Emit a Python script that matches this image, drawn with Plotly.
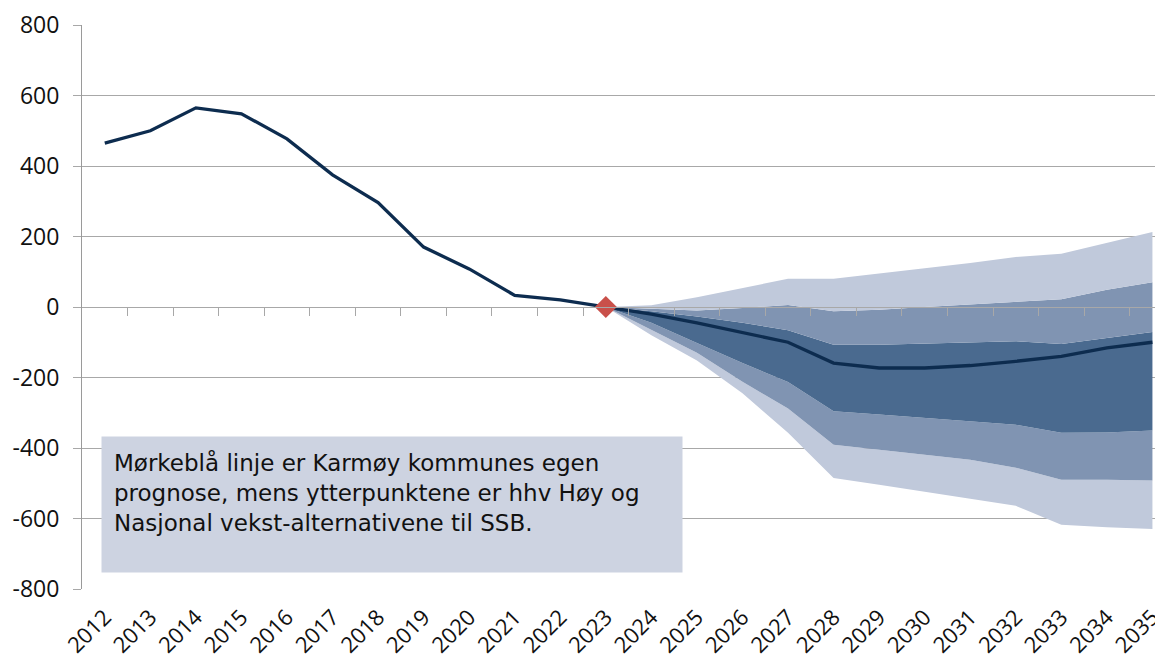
import plotly.graph_objects as go

hist_years = list(range(2012, 2024))
hist_values = [465, 500, 565, 548, 477, 375, 296, 170, 108, 33, 20, 0]

fc_years = list(range(2023, 2036))
fc_values = [0, -20, -45, -72, -100, -159, -173, -173, -166, -154, -140, -116, -100]

light_top = [0, 5, 28, 55, 80, 80, 94, 110, 125, 142, 151, 182, 213]
medium_top = [0, -4, -10, -3, 6, -12, -8, 0, 7, 16, 22, 49, 70]
dark_top = [0, -12, -27, -45, -66, -107, -107, -104, -100, -97, -105, -88, -71]
dark_bottom = [0, -45, -102, -159, -213, -296, -305, -315, -325, -334, -357, -356, -350]
medium_bottom = [0, -65, -130, -212, -288, -391, -405, -419, -433, -456, -490, -490, -492]
light_bottom = [0, -80, -152, -245, -357, -485, -504, -523, -544, -564, -618, -625, -630]

year_ticks = list(range(2012, 2036))
y_ticks = [800, 600, 400, 200, 0, -200, -400, -600, -800]

note_text = ("Mørkeblå linje er Karmøy kommunes egen<br>"
             "prognose, mens ytterpunktene er hhv Høy og<br>"
             "Nasjonal vekst-alternativene til SSB.")

C_LIGHT = "#c0c9db"
C_MED = "#8094b2"
C_DARK = "#4a6a8f"
C_LINE = "#0d2c4f"
C_DIAMOND = "#c9504a"
GRID = "#a8a8a8"

fig = go.Figure()

def band(y, color, fill):
    fig.add_trace(go.Scatter(x=fc_years, y=y, mode="lines", line=dict(width=0, color=color),
                             fill=fill, fillcolor=color, hoverinfo="skip", showlegend=False))

band(light_bottom, C_LIGHT, None)
band(medium_bottom, C_LIGHT, "tonexty")
band(dark_bottom, C_MED, "tonexty")
band(dark_top, C_DARK, "tonexty")
band(medium_top, C_MED, "tonexty")
band(light_top, C_LIGHT, "tonexty")

fig.add_trace(go.Scatter(x=hist_years + fc_years[1:], y=hist_values + fc_values[1:], mode="lines",
                         line=dict(color=C_LINE, width=3.3), showlegend=False))
fig.add_trace(go.Scatter(x=[fc_years[0]], y=[fc_values[0]], mode="markers",
                         marker=dict(symbol="diamond", size=17, color=C_DIAMOND), showlegend=False))

# dummy trace to activate the zero-line category axis
fig.add_trace(go.Scatter(x=[year_ticks[0]], y=[0], xaxis="x2", mode="markers",
                         marker=dict(opacity=0), showlegend=False, hoverinfo="skip"))

# page body has an 8px margin; figure is sized so that the plot area lands where the reference has it
W, H = 1155, 652
L, T, B = 74, 17, 71
plot_w = W - L
xr = [2011.5, 2011.5 + plot_w / 45.55]

fig.update_layout(
    width=W, height=H,
    margin=dict(l=L, r=0, t=T, b=B),
    paper_bgcolor="white", plot_bgcolor="white",
    font=dict(family="Open Sans", color="#111111"),
    xaxis=dict(range=xr, tickmode="array", tickvals=year_ticks, ticktext=[str(v) for v in year_ticks],
               tickangle=-45, tickfont=dict(size=22, family="Open Sans", color="#111"),
               showgrid=False, zeroline=False, showline=False, ticks="", ticklabelstandoff=10,
               ticklabeloverflow="allow", automargin=False),
    xaxis2=dict(range=xr, overlaying="x", anchor="free", position=0.5,
                tickmode="array", tickvals=[v + 0.5 for v in year_ticks[:-1]],
                showticklabels=False, ticks="outside", ticklen=8, tickcolor=GRID, tickwidth=1,
                showline=True, linecolor=GRID, linewidth=1, showgrid=False, zeroline=False,
                layer="above traces", automargin=False),
    yaxis=dict(range=[-800, 800], tickmode="array", tickvals=y_ticks,
               ticktext=[str(v) for v in y_ticks],
               tickfont=dict(size=23, family="Open Sans", color="#111"),
               showgrid=True, gridcolor=GRID, gridwidth=1, zeroline=False,
               showline=True, linecolor="#9a9a9a", linewidth=1,
               ticks="outside", ticklen=8, tickcolor=GRID, ticklabelstandoff=9,
               automargin=False),
)

box_left, box_top = 101 - 8, 436 - 8
plot_h = H - T - B
fig.add_annotation(
    xref="paper", yref="paper", x=(box_left - L) / plot_w, y=(H - B - box_top) / plot_h,
    xanchor="left", yanchor="top", text=note_text, showarrow=False,
    align="left", valign="top", width=556, height=111, borderpad=12,
    bgcolor="#cdd3e1", font=dict(size=23, family="DejaVu Sans", color="#111"),
)

fig.write_html("out.html")
